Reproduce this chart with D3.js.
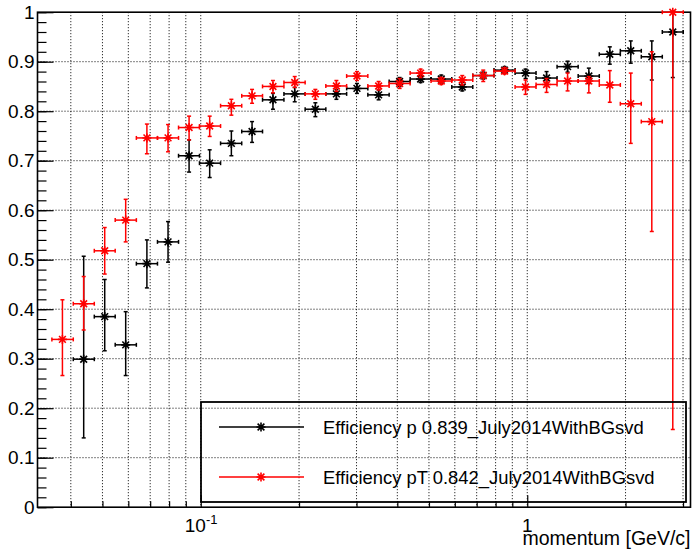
<!DOCTYPE html>
<html>
<head>
<meta charset="utf-8">
<script src="https://cdn.jsdelivr.net/npm/d3@7"></script>
<style>
  body { margin: 0; background: #fff; }
  text { font-family: "Liberation Sans", Arial, sans-serif; fill: #000; }
</style>
</head>
<body>
<div id="chart-container"></div>
<script>
// bin edges and bin centres (momentum, GeV/c)
const pEdges = [0.0350, 0.0407, 0.0472, 0.0547, 0.0635, 0.0737, 0.0855, 0.0991, 0.1150, 0.1335,
  0.1546, 0.1798, 0.2088, 0.2416, 0.2798, 0.3249, 0.3776, 0.4378, 0.5074, 0.5873,
  0.6811, 0.7909, 0.9178, 1.064, 1.234, 1.432, 1.662, 1.928, 2.235, 2.592, 3.005];
const pCenters = [0.0377, 0.0438, 0.0508, 0.0589, 0.0684, 0.0794, 0.0921, 0.1065, 0.1241, 0.1436,
  0.1664, 0.1940, 0.2244, 0.2603, 0.3009, 0.3506, 0.4065, 0.4714, 0.5453, 0.6324,
  0.7332, 0.8521, 0.988, 1.146, 1.329, 1.544, 1.790, 2.075, 2.407, 2.791];

// efficiency vs p (black)
const effP = [null, 0.299, 0.385, 0.328, 0.492, 0.536, 0.710, 0.695, 0.735, 0.759,
  0.823, 0.835, 0.804, 0.835, 0.846, 0.833, 0.860, 0.865, 0.865, 0.849,
  0.872, 0.883, 0.877, 0.867, 0.890, 0.871, 0.915, 0.922, 0.910, 0.960];
const effPHi = [null, 0.507, 0.460, 0.395, 0.540, 0.577, 0.742, 0.722, 0.760, 0.779,
  0.836, 0.848, 0.817, 0.844, 0.856, 0.843, 0.868, 0.872, 0.873, 0.858,
  0.879, 0.890, 0.885, 0.880, 0.901, 0.887, 0.930, 0.942, 0.942, 1.0];
const effPLo = [null, 0.140, 0.316, 0.266, 0.443, 0.495, 0.677, 0.666, 0.710, 0.737,
  0.804, 0.819, 0.789, 0.824, 0.836, 0.823, 0.850, 0.858, 0.857, 0.841,
  0.865, 0.877, 0.866, 0.854, 0.879, 0.856, 0.895, 0.897, 0.863, 0.868];

// efficiency vs pT (red)
const effPt = [0.339, 0.411, 0.518, 0.580, 0.746, 0.746, 0.767, 0.770, 0.811, 0.831,
  0.850, 0.858, 0.835, 0.851, 0.871, 0.851, 0.856, 0.877, 0.861, 0.863,
  0.872, 0.881, 0.849, 0.854, 0.861, 0.861, 0.853, 0.815, 0.779, 1.0];
const effPtHi = [0.419, 0.466, 0.565, 0.622, 0.774, 0.773, 0.790, 0.790, 0.824, 0.844,
  0.862, 0.870, 0.844, 0.862, 0.880, 0.860, 0.866, 0.885, 0.868, 0.872,
  0.883, 0.888, 0.863, 0.866, 0.877, 0.870, 0.882, 0.877, 0.920, 1.0];
const effPtLo = [0.266, 0.358, 0.471, 0.536, 0.714, 0.718, 0.742, 0.749, 0.792, 0.816,
  0.837, 0.848, 0.824, 0.840, 0.862, 0.843, 0.846, 0.868, 0.854, 0.853,
  0.860, 0.875, 0.834, 0.838, 0.841, 0.837, 0.818, 0.735, 0.557, 0.157];

const yTicks = [0, 0.1, 0.2, 0.3, 0.4, 0.5, 0.6, 0.7, 0.8, 0.9, 1];
const xMajorTicks = [0.1, 1];
const xMinorTicks = [0.04, 0.05, 0.06, 0.07, 0.08, 0.09, 0.2, 0.3, 0.4, 0.5, 0.6, 0.7, 0.8, 0.9, 2, 3];
const legendLabels = ["Efficiency p 0.839_July2014WithBGsvd", "Efficiency pT 0.842_July2014WithBGsvd"];

const margin = { top: 12.2, right: 2.5, bottom: 44.8, left: 37.5 };
const width = 693 - margin.left - margin.right;
const height = 552 - margin.top - margin.bottom;

const svg = d3
  .select("#chart-container")
  .append("svg")
  .attr("width", 693)
  .attr("height", 552);

const chart = svg
  .append("g")
  .attr("transform", `translate(${margin.left},${margin.top})`);

const x = d3.scaleLog().domain([Math.pow(10, -1.5), Math.pow(10, 0.5)]).range([0, width]);
const y = d3.scaleLinear().domain([0, 1]).range([height, 0]);

// grid
const grid = chart.append("g").attr("stroke", "#000").attr("stroke-width", 1).attr("stroke-dasharray", "1,2");
grid
  .selectAll("line.gx")
  .data(xMinorTicks.concat(xMajorTicks))
  .join("line")
  .attr("class", "gx")
  .attr("x1", (d) => x(d))
  .attr("x2", (d) => x(d))
  .attr("y1", 0)
  .attr("y2", height);
grid
  .selectAll("line.gy")
  .data(yTicks.filter((d) => d > 0 && d < 1))
  .join("line")
  .attr("class", "gy")
  .attr("x1", 0)
  .attr("x2", width)
  .attr("y1", (d) => y(d))
  .attr("y2", (d) => y(d));

// y axis: major + minor ticks pointing inwards
chart
  .append("g")
  .call(d3.axisLeft(y).tickValues(yTicks).tickSize(-16).tickPadding(3).tickFormat(d3.format("~g")))
  .call((g) => g.select(".domain").remove())
  .call((g) => g.selectAll("text").attr("font-size", 19).attr("font-family", "Liberation Sans, Arial, sans-serif"));
chart
  .append("g")
  .call(d3.axisLeft(y).tickValues(d3.range(0, 1.001, 0.02)).tickSize(-9).tickFormat(""))
  .call((g) => g.select(".domain").remove());

// x axis
chart
  .append("g")
  .attr("transform", `translate(0,${height})`)
  .call(d3.axisBottom(x).tickValues(xMajorTicks).tickSize(-12).tickFormat(""))
  .call((g) => g.select(".domain").remove());
chart
  .append("g")
  .attr("transform", `translate(0,${height})`)
  .call(d3.axisBottom(x).tickValues(xMinorTicks).tickSize(-6).tickFormat(""))
  .call((g) => g.select(".domain").remove());
chart.selectAll(".tick line").attr("stroke", "#000").attr("stroke-width", 1.2);

const lab1 = chart
  .append("text")
  .attr("x", x(0.1) - 16)
  .attr("y", height + 25)
  .attr("font-size", 19);
lab1.append("tspan").text("10");
lab1.append("tspan").attr("font-size", 13).attr("dy", -8).text("-1");
chart
  .append("text")
  .attr("x", x(1))
  .attr("y", height + 25)
  .attr("text-anchor", "middle")
  .attr("font-size", 19)
  .text("1");

chart
  .append("text")
  .attr("x", width)
  .attr("y", height + 38)
  .attr("text-anchor", "end")
  .attr("font-size", 19.5)
  .text("momentum [GeV/c]");

// frame
chart
  .append("rect")
  .attr("width", width)
  .attr("height", height)
  .attr("fill", "none")
  .attr("stroke", "#000")
  .attr("stroke-width", 1.6);

// asterisk marker (ROOT style 3)
const star = (g, cx, cy, color) => {
  const r = 4.5;
  const k = r * 0.75;
  g.append("path")
    .attr("d", `M${cx - r},${cy}H${cx + r}M${cx},${cy - r}V${cy + r}` +
      `M${cx - k},${cy - k}L${cx + k},${cy + k}M${cx - k},${cy + k}L${cx + k},${cy - k}`)
    .attr("stroke", color)
    .attr("stroke-width", 1.6)
    .attr("fill", "none");
};

const drawSeries = (vals, his, los, color) => {
  const g = chart.append("g").attr("stroke", color).attr("stroke-width", 1.5);
  vals.forEach((v, i) => {
    if (v == null) return;
    const cx = x(pCenters[i]);
    const cy = y(v);
    const xl = x(pEdges[i]);
    const xr = x(pEdges[i + 1]);
    const yh = y(his[i]);
    const yl = y(los[i]);
    g.append("line").attr("x1", xl).attr("x2", xr).attr("y1", cy).attr("y2", cy);
    g.append("line").attr("x1", cx).attr("x2", cx).attr("y1", yh).attr("y2", yl);
    // end caps
    g.append("line").attr("x1", cx - 2).attr("x2", cx + 2).attr("y1", yh).attr("y2", yh);
    g.append("line").attr("x1", cx - 2).attr("x2", cx + 2).attr("y1", yl).attr("y2", yl);
    g.append("line").attr("x1", xl).attr("x2", xl).attr("y1", cy - 2).attr("y2", cy + 2);
    g.append("line").attr("x1", xr).attr("x2", xr).attr("y1", cy - 2).attr("y2", cy + 2);
    star(g, cx, cy, color);
  });
};

drawSeries(effP, effPHi, effPLo, "#000");
drawSeries(effPt, effPtHi, effPtLo, "#f00");

// legend (transparent box)
const legend = svg.append("g");
legend
  .append("rect")
  .attr("x", 201)
  .attr("y", 402)
  .attr("width", 485)
  .attr("height", 100)
  .attr("fill", "none")
  .attr("stroke", "#000")
  .attr("stroke-width", 1.8);

["#000", "#f00"].forEach((color, i) => {
  const ly = 427 + i * 50;
  legend
    .append("line")
    .attr("x1", 219)
    .attr("x2", 304)
    .attr("y1", ly)
    .attr("y2", ly)
    .attr("stroke", color)
    .attr("stroke-width", 1.5);
  star(legend, 261, ly, color);
  legend
    .append("text")
    .attr("x", 323)
    .attr("y", ly + 7)
    .attr("font-size", 18.4)
    .text(legendLabels[i]);
});
</script>
</body>
</html>
